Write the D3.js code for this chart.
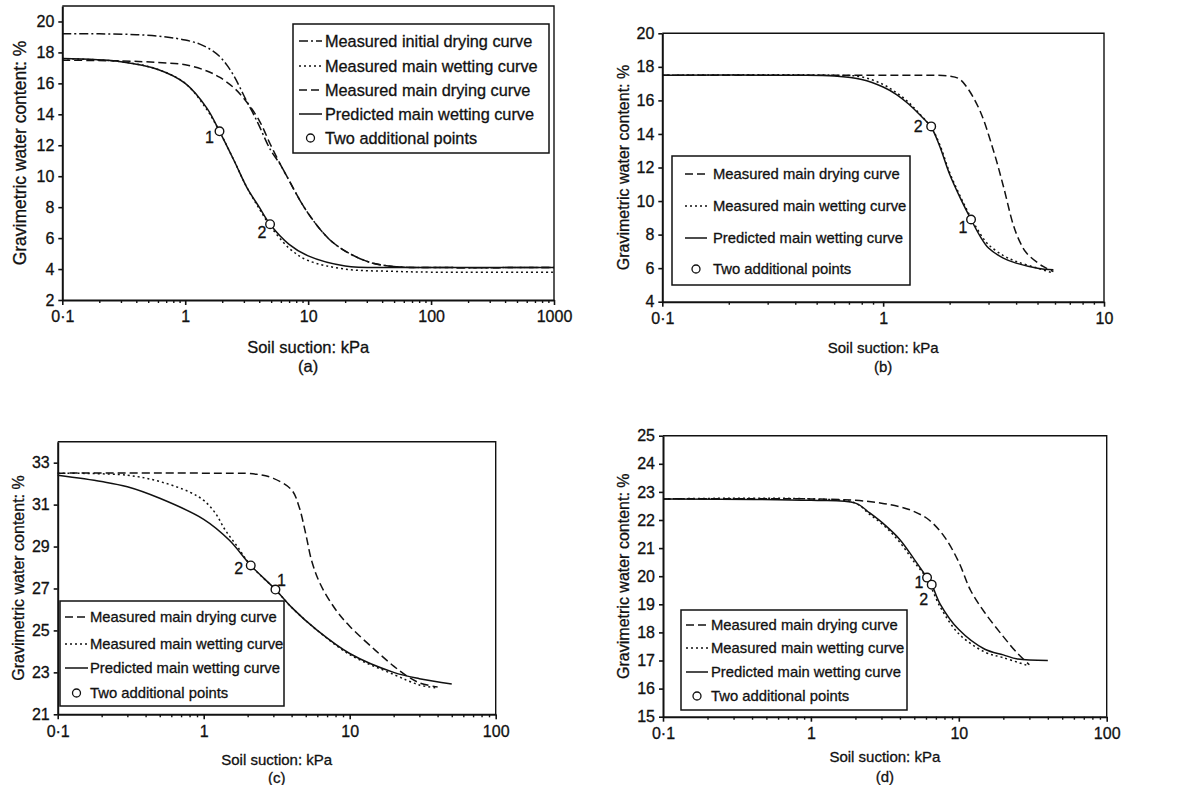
<!DOCTYPE html>
<html>
<head>
<meta charset="utf-8">
<script src="https://cdn.jsdelivr.net/npm/d3@7"></script>
<style>
  body { margin: 0; background: #fff; }
  svg { display: block; }
  text { font-family: "Liberation Sans", Arial, sans-serif; fill: #111; stroke: #111; stroke-width: 0.3px; }
</style>
</head>
<body>
<div id="container"></div>
<script>
// ---- data (suction kPa, water content %) ----

// (a)
var aInitialDrying = [[0.1,19.2],[0.2,19.2],[0.4,19.15],[0.7,19.0],[1,18.8],[1.3,18.55],[1.6,18.2],[1.9,17.75],[2.2,17.15],[2.5,16.45],[2.8,15.7],[3.16,14.85],[3.6,14.0],[4,13.25],[4.9,11.75],[6,10.7],[6.7,10.0],[10,7.6],[16,5.7],[30,4.5],[52,4.15],[100,4.1],[1000,4.1]];
var aMainWetting   = [[0.1,17.6],[0.3,17.4],[0.6,16.9],[1,16.0],[1.5,14.3],[1.9,12.9],[2.5,11.0],[3.16,9.3],[4,7.9],[4.9,6.8],[7,5.35],[10,4.55],[20,4.0],[50,3.85],[100,3.8],[1000,3.8]];
var aMainDrying    = [[0.1,17.5],[0.3,17.45],[0.6,17.35],[1,17.2],[1.5,16.8],[1.9,16.4],[2.5,15.7],[3.16,14.8],[4,13.6],[4.9,12.1],[6,10.7],[6.7,10.0],[10,7.6],[16,5.7],[30,4.5],[52,4.15],[100,4.1],[1000,4.1]];
var aPredicted     = [[0.1,17.6],[0.3,17.4],[0.6,16.9],[1,16.0],[1.5,14.4],[1.9,12.9],[2.5,11.0],[3.16,9.3],[4,8.0],[4.9,6.9],[7,5.6],[10,4.85],[20,4.2],[50,4.1],[100,4.1],[1000,4.1]];
var aPoints        = [[1.9,12.9,"1"],[4.9,6.9,"2"]];

// (b)
var bMainDrying    = [[0.1,17.5],[0.5,17.5],[1,17.5],[1.5,17.5],[2,17.45],[2.2,17.3],[2.39,16.8],[2.74,15.4],[3.16,13.0],[3.5,10.9],[3.88,8.6],[4.15,7.6],[4.46,6.9],[5.3,6.1],[5.9,5.8]];
var bMainWetting   = [[0.1,17.5],[0.6,17.5],[0.8,17.4],[1,16.95],[1.15,16.45],[1.3,15.9],[1.45,15.25],[1.65,14.4],[1.8,13.4],[2,11.7],[2.25,10.2],[2.5,9.0],[2.75,8.05],[3,7.4],[3.5,6.75],[4,6.4],[5,6.0],[5.9,5.7]];
var bPredicted     = [[0.1,17.5],[0.4,17.5],[0.6,17.45],[0.8,17.25],[1,16.8],[1.15,16.35],[1.3,15.8],[1.45,15.2],[1.65,14.4],[1.8,13.3],[2,11.6],[2.25,10.1],[2.5,8.9],[2.75,7.9],[3,7.2],[3.5,6.6],[4,6.3],[5,6.0],[5.9,5.9]];
var bPoints        = [[2.5,8.9,"1"],[1.65,14.45,"2"]];

// (c)
var cMainDrying    = [[0.1,32.5],[1,32.5],[2.3,32.45],[3,32.25],[4,31.7],[4.5,30.9],[5,29.6],[5.5,28.3],[6.3,27.2],[8,26.0],[10,25.2],[15,24.05],[20,23.3],[25,22.8],[30,22.5],[40,22.3]];
var cMainWetting   = [[0.1,32.5],[0.3,32.4],[0.5,32.1],[0.8,31.6],[1,31.2],[1.2,30.6],[1.4,29.8],[1.7,29.0],[2.1,28.1],[3.1,26.95],[4,26.1],[6,25.0],[10,23.85],[20,22.9],[30,22.4],[40,22.25]];
var cPredicted     = [[0.1,32.4],[0.2,32.1],[0.3,31.85],[0.5,31.3],[1,30.3],[1.5,29.3],[2.1,28.1],[3.1,26.95],[4,26.1],[6,25.0],[10,23.9],[20,23.0],[30,22.7],[50,22.45]];
var cPoints        = [[3.1,26.95,"1"],[2.1,28.1,"2"]];

// (d)
var dMainDrying    = [[0.1,22.75],[1,22.75],[2,22.7],[3,22.6],[4,22.47],[5,22.3],[6.3,22.0],[8,21.4],[10,20.5],[12,19.5],[15,18.7],[20,17.85],[25,17.25],[30,16.85]];
var dMainWetting   = [[0.1,22.75],[1,22.75],[2,22.6],[2.5,22.2],[3.2,21.75],[4,21.2],[5,20.5],[6.1,19.9],[7.5,18.9],[10,17.95],[15,17.3],[20,17.1],[30,16.8]];
var dPredicted     = [[0.1,22.75],[1,22.7],[2,22.6],[2.5,22.25],[3.2,21.8],[4,21.3],[5,20.6],[6.1,19.95],[6.56,19.7],[7.5,19.0],[10,18.1],[15,17.4],[20,17.2],[25,17.05],[40,17.0]];
var dPoints        = [[6.1,19.95,"1"],[6.56,19.7,"2"]];

var LBL_DRY0 = "Measured initial drying curve";
var LBL_WET  = "Measured main wetting curve";
var LBL_DRY  = "Measured main drying curve";
var LBL_PRED = "Predicted main wetting curve";
var LBL_PTS  = "Two additional points";

// line styles
var STYLES = {
  dashdot: "9,3,2,3",
  dotted:  "2,3",
  dashed:  "8,4",
  solid:   null
};

var panels = [
  { tag: "(a)", left: 62.3, right: 554, top: 6, bottom: 300,
    xDomain: [0.1, 1000], yDomain: [2, 21], yTicks: d3.range(2, 21, 2),
    yLabelX: 20, xLabelY: 353, tagY: 372, font: 16.5,
    curves: [
      { data: aInitialDrying, style: "dashdot", name: LBL_DRY0 },
      { data: aMainWetting,   style: "dotted",  name: LBL_WET },
      { data: aMainDrying,    style: "dashed",  name: LBL_DRY },
      { data: aPredicted,     style: "solid",   name: LBL_PRED }
    ],
    points: aPoints, pointOffsets: [[-10, 6], [-8, 8]],
    legend: { x0: 293, x1: 549, y0: 24, y1: 153, rows: [41, 66, 90, 114, 138], sym0: 299, sym1: 322, text: 325, font: 16.3 }
  },
  { tag: "(b)", left: 662.3, right: 1104, top: 33.3, bottom: 301.7,
    xDomain: [0.1, 10], yDomain: [4, 20], yTicks: d3.range(4, 21, 2),
    yLabelX: 623, xLabelY: 353, tagY: 372, font: 15,
    curves: [
      { data: bMainDrying,  style: "dashed", name: LBL_DRY },
      { data: bMainWetting, style: "dotted", name: LBL_WET },
      { data: bPredicted,   style: "solid",  name: LBL_PRED }
    ],
    points: bPoints, pointOffsets: [[-8, 8], [-13, 0]],
    legend: { x0: 672, x1: 910, y0: 156, y1: 285, rows: [174, 206, 238, 269], sym0: 685, sym1: 707, text: 713, font: 14.8 }
  },
  { tag: "(c)", left: 57.7, right: 495.7, top: 441.7, bottom: 714.3,
    xDomain: [0.1, 100], yDomain: [21, 34], yTicks: d3.range(21, 34, 2),
    yLabelX: 18, xLabelY: 765, tagY: 783, font: 15,
    curves: [
      { data: cMainDrying,  style: "dashed", name: LBL_DRY },
      { data: cMainWetting, style: "dotted", name: LBL_WET },
      { data: cPredicted,   style: "solid",  name: LBL_PRED }
    ],
    points: cPoints, pointOffsets: [[6, -9], [-12, 3]],
    legend: { x0: 60, x1: 284, y0: 601, y1: 706, rows: [617, 644, 668, 693], sym0: 65, sym1: 88, text: 90, font: 14.8 }
  },
  { tag: "(d)", left: 663, right: 1106.7, top: 435.7, bottom: 716.7,
    xDomain: [0.1, 100], yDomain: [15, 25], yTicks: d3.range(15, 26, 1),
    yLabelX: 623, xLabelY: 762, tagY: 782, font: 15,
    curves: [
      { data: dMainDrying,  style: "dashed", name: LBL_DRY },
      { data: dMainWetting, style: "dotted", name: LBL_WET },
      { data: dPredicted,   style: "solid",  name: LBL_PRED }
    ],
    points: dPoints, pointOffsets: [[-8, 5], [-8, 15]],
    legend: { x0: 681, x1: 907, y0: 610, y1: 710, rows: [625, 648, 672, 696], sym0: 686, sym1: 708, text: 711, font: 14.8 }
  }
];

var svg = d3.select("#container")
  .append("svg")
    .attr("width", 1192)
    .attr("height", 785);

function fmtX(d) {
  return d === 0.1 ? "0\u00b71" : String(Math.round(d));
}

function drawPanel(p) {
  var g = svg.append("g");
  var x = d3.scaleLog().domain(p.xDomain).range([p.left, p.right]);
  var y = d3.scaleLinear().domain(p.yDomain).range([p.bottom, p.top]);

  var majors = [];
  var minors = [];
  for (var e = Math.log10(p.xDomain[0]); e <= Math.log10(p.xDomain[1]) + 1e-9; e++) {
    var base = Math.pow(10, e);
    majors.push(+base.toPrecision(3));
    if (base < p.xDomain[1] * 0.99) {
      for (var k = 2; k < 10; k++) minors.push(+(base * k).toPrecision(3));
    }
  }

  // frame (top & right)
  g.append("path")
    .attr("d", "M" + p.left + "," + p.top + "H" + p.right + "V" + p.bottom)
    .attr("fill", "none")
    .attr("stroke", "#111")
    .attr("stroke-width", 1.4);

  // minor x ticks
  g.append("g")
    .attr("transform", "translate(0," + p.bottom + ")")
    .call(d3.axisBottom(x).tickValues(minors).tickFormat("").tickSize(3).tickSizeOuter(0))
    .call(s => s.select(".domain").remove())
    .selectAll("line").attr("stroke", "#111").attr("stroke-width", 1.4);

  // major x ticks + labels
  var xa = g.append("g")
    .attr("transform", "translate(0," + p.bottom + ")")
    .call(d3.axisBottom(x).tickValues(majors).tickFormat(fmtX).tickSize(5).tickSizeOuter(0).tickPadding(6));
  xa.select(".domain").attr("stroke", "#111").attr("stroke-width", 2);
  xa.selectAll("line").attr("stroke", "#111").attr("stroke-width", 1.6);
  xa.selectAll("text").attr("font-size", 16).attr("fill", "#111")
    .style("font-family", "'Liberation Sans', Arial, sans-serif");

  // y axis
  var ya = g.append("g")
    .attr("transform", "translate(" + p.left + ",0)")
    .call(d3.axisLeft(y).tickValues(p.yTicks).tickSize(4).tickSizeOuter(0).tickPadding(4));
  ya.select(".domain").attr("stroke", "#111").attr("stroke-width", 2);
  ya.selectAll("line").attr("stroke", "#111").attr("stroke-width", 1.6);
  ya.selectAll("text").attr("font-size", 16).attr("fill", "#111")
    .style("font-family", "'Liberation Sans', Arial, sans-serif");

  // axis titles
  g.append("text")
    .attr("transform", "translate(" + p.yLabelX + "," + ((p.top + p.bottom) / 2) + ") rotate(-90)")
    .attr("text-anchor", "middle")
    .attr("dy", "0.35em")
    .attr("font-size", p.font + 1)
    .text("Gravimetric water content: %");

  g.append("text")
    .attr("x", (p.left + p.right) / 2)
    .attr("y", p.xLabelY)
    .attr("text-anchor", "middle")
    .attr("font-size", p.font)
    .text("Soil suction: kPa");

  g.append("text")
    .attr("x", (p.left + p.right) / 2)
    .attr("y", p.tagY)
    .attr("text-anchor", "middle")
    .attr("font-size", p.font)
    .text(p.tag);

  // curves
  var line = d3.line()
    .x(d => x(d[0]))
    .y(d => y(d[1]))
    .curve(d3.curveCatmullRom.alpha(0.5));

  p.curves.forEach(c => {
    g.append("path")
      .datum(c.data)
      .attr("d", line)
      .attr("fill", "none")
      .attr("stroke", "#111")
      .attr("stroke-width", 1.5)
      .attr("stroke-dasharray", STYLES[c.style]);
  });

  // legend
  var L = p.legend;
  g.append("rect")
    .attr("x", L.x0).attr("y", L.y0)
    .attr("width", L.x1 - L.x0).attr("height", L.y1 - L.y0)
    .attr("fill", "#fff")
    .attr("stroke", "#111")
    .attr("stroke-width", 1.5);

  p.curves.forEach((c, i) => {
    g.append("line")
      .attr("x1", L.sym0).attr("x2", L.sym1)
      .attr("y1", L.rows[i]).attr("y2", L.rows[i])
      .attr("stroke", "#111")
      .attr("stroke-width", 1.5)
      .attr("stroke-dasharray", STYLES[c.style]);
    g.append("text")
      .attr("x", L.text).attr("y", L.rows[i])
      .attr("dy", "0.36em")
      .attr("font-size", L.font)
      .text(c.name);
  });
  var last = L.rows[L.rows.length - 1];
  g.append("circle")
    .attr("cx", (L.sym0 + L.sym1) / 2).attr("cy", last)
    .attr("r", 4)
    .attr("fill", "#fff").attr("stroke", "#111").attr("stroke-width", 1.3);
  g.append("text")
    .attr("x", L.text).attr("y", last)
    .attr("dy", "0.36em")
    .attr("font-size", L.font)
    .text(LBL_PTS);

  // additional points
  p.points.forEach((pt, i) => {
    g.append("circle")
      .attr("cx", x(pt[0])).attr("cy", y(pt[1]))
      .attr("r", 4.3)
      .attr("fill", "#fff").attr("stroke", "#111").attr("stroke-width", 1.4);
    g.append("text")
      .attr("x", x(pt[0]) + p.pointOffsets[i][0])
      .attr("y", y(pt[1]) + p.pointOffsets[i][1])
      .attr("text-anchor", "middle")
      .attr("dy", "0.36em")
      .attr("font-size", 16)
      .text(pt[2]);
  });
}

panels.forEach(drawPanel);
</script>
</body>
</html>
